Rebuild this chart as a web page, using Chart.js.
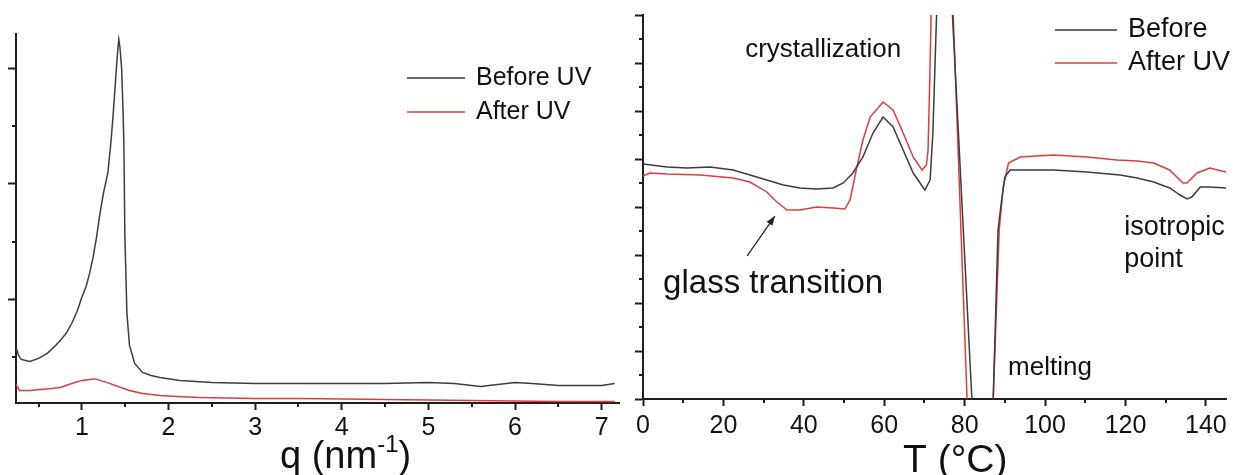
<!DOCTYPE html>
<html lang="en">
<head>
  <meta charset="UTF-8" />
  <title>SAXS and DSC before / after UV</title>
  <script src="https://cdn.jsdelivr.net/npm/chart.js"></script>
  <style>
    body { margin: 0; background: #fff; }
    canvas { position: absolute; top: 0; }
  </style>
</head>
<body>
  <canvas id="saxsChart" width="630" height="475" style="left:0"></canvas>
  <canvas id="dscChart" width="606" height="475" style="left:630px"></canvas>

  <script>
    // ---- left panel: scattering intensity vs q ----
    const qBefore = [0.24, 0.27, 0.30, 0.34, 0.40, 0.50, 0.60, 0.70, 0.75, 0.82, 0.89, 0.95, 1.00, 1.05, 1.09, 1.13, 1.17, 1.21, 1.25, 1.30,
                     1.335, 1.36, 1.38, 1.40, 1.415, 1.427, 1.44, 1.46, 1.475, 1.485, 1.496, 1.52, 1.55, 1.61, 1.70, 1.80, 1.90, 2.13, 2.50, 3.00,
                     3.50, 4.00, 4.50, 5.00, 5.30, 5.60, 5.80, 6.00, 6.20, 6.50, 6.80, 7.00, 7.15];
    const iBefore = [0.583, 0.513, 0.478, 0.470, 0.461, 0.487, 0.530, 0.600, 0.643, 0.704, 0.800, 0.904, 1.017, 1.113, 1.226, 1.365, 1.539, 1.748, 1.922, 2.096,
                     2.357, 2.583, 2.800, 3.017, 3.165, 3.252, 3.183, 2.991, 2.643, 2.357, 1.574, 0.878, 0.600, 0.443, 0.365, 0.339, 0.322, 0.296, 0.278, 0.270,
                     0.270, 0.270, 0.270, 0.278, 0.270, 0.243, 0.261, 0.278, 0.270, 0.252, 0.252, 0.252, 0.270];
    const qAfter = [0.24, 0.28, 0.40, 0.52, 0.65, 0.75, 0.85, 0.92, 1.00, 1.09, 1.15, 1.21, 1.32, 1.45, 1.55, 1.70, 1.90, 2.10, 2.36, 3.00,
                    3.50, 4.50, 5.50, 6.50, 7.15];
    const iAfter = [0.261, 0.209, 0.209, 0.217, 0.226, 0.235, 0.261, 0.278, 0.296, 0.304, 0.309, 0.296, 0.270, 0.235, 0.209, 0.183, 0.165, 0.157, 0.148, 0.139,
                    0.139, 0.130, 0.122, 0.113, 0.113];
    const qTicks = [1, 2, 3, 4, 5, 6, 7];
    const qMinor = [0.5, 1.5, 2.5, 3.5, 4.5, 5.5, 6.5];
    const saxsYMajor = [1, 2, 3];
    const saxsYMinor = [0.5, 1.5, 2.5];

    // ---- right panel: DSC heat flow vs T ----
    const tBefore = [0, 6, 11, 16.7, 22.4, 26.6, 30.8, 34.9, 39, 43.2, 47.3, 49.8, 52.2, 54.7, 57.2, 59.7, 62.2, 64.7, 67.2, 70.1,
                     71.4, 72.1, 73.2, 74.5, 76.6, 81.8, 84.5, 87.1, 88.3, 89.2, 90.0, 91.3, 98, 102, 110.4, 118.7, 122.9, 127, 131, 133.6,
                     135.3, 136.5, 138.6, 141, 145];
    const hfBefore = [4.896, 4.833, 4.813, 4.833, 4.771, 4.667, 4.563, 4.458, 4.396, 4.375, 4.396, 4.500, 4.708, 5.042, 5.542, 5.875, 5.667, 5.188, 4.708, 4.354,
                      4.563, 5.542, 8.5, 12, 8.6, 0, -4, 0, 3.521, 4.146, 4.625, 4.771, 4.771, 4.771, 4.729, 4.667, 4.604, 4.521, 4.396, 4.250,
                      4.167, 4.208, 4.417, 4.417, 4.396];
    const tAfter = [0, 1.7, 6, 14.2, 22.4, 26.6, 30.8, 33.3, 35.8, 39, 43.2, 47.3, 50.2, 51.5, 53.2, 54.7, 56.5, 59.7, 62.2, 64.7,
                    67.2, 69.4, 70.5, 70.9, 71.4, 71.8, 73.8, 76.9, 80.6, 84, 87.1, 88.6, 89.6, 90.9, 93.8, 102, 110.4, 117.9, 122.9, 127,
                    131, 134.3, 135.3, 137.8, 141, 145];
    const hfAfter = [4.646, 4.708, 4.688, 4.667, 4.604, 4.521, 4.313, 4.104, 3.938, 3.938, 4.000, 3.979, 3.958, 4.146, 4.833, 5.396, 5.875, 6.188, 6.021, 5.542,
                     5.042, 4.771, 4.875, 5.188, 6.917, 8.6, 12.5, 8.6, 0, -4, 0, 3.521, 4.417, 4.917, 5.042, 5.083, 5.042, 4.979, 4.958, 4.917,
                     4.771, 4.500, 4.500, 4.708, 4.813, 4.729];
    const tTicks = [0, 20, 40, 60, 80, 100, 120, 140];
    const tMinor = [10, 30, 50, 70, 90, 110, 130];
    const dscYMajor = [0, 1, 2, 3, 4, 5, 6, 7, 8];
    const dscYMinor = [0.5, 1.5, 2.5, 3.5, 4.5, 5.5, 6.5, 7.5];

    const FONT = "'Liberation Sans', Arial, sans-serif";
    const AXIS = '#1e1e1e';
    const TEXT = '#111';
    const BLACK_LINE = '#3d3d3d';
    const RED_LINE = '#e03c3c';

    Chart.defaults.font.family = FONT;

    const toPoints = (xs, ys) => xs.map((v, i) => ({ x: v, y: ys[i] }));

    // minor ticks, legend, text notes, arrow and axis title
    const decorPlugin = {
      id: 'decor',
      afterDraw(chart, args, opts) {
        const { ctx, chartArea: area } = chart;
        const xs = chart.scales.x, ys = chart.scales.y;
        ctx.save();

        ctx.strokeStyle = AXIS;
        ctx.lineWidth = 2;
        ctx.beginPath();
        opts.minorX.forEach(v => {
          const px = Math.round(xs.getPixelForValue(v));
          ctx.moveTo(px, area.bottom);
          ctx.lineTo(px, area.bottom + opts.minorLen);
        });
        opts.minorY.forEach(v => {
          const py = Math.round(ys.getPixelForValue(v));
          ctx.moveTo(area.left, py);
          ctx.lineTo(area.left - opts.minorLen, py);
        });
        ctx.stroke();

        const lg = opts.legend;
        ctx.font = lg.size + 'px ' + FONT;
        ctx.textBaseline = 'middle';
        chart.data.datasets.forEach((ds, i) => {
          const yy = lg.y + i * lg.gap;
          ctx.strokeStyle = ds.borderColor;
          ctx.lineWidth = 1.5;
          ctx.beginPath();
          ctx.moveTo(lg.x, yy);
          ctx.lineTo(lg.x + lg.len, yy);
          ctx.stroke();
          ctx.fillStyle = TEXT;
          ctx.fillText(ds.label, lg.x + lg.len + 11, yy);
        });

        ctx.textBaseline = 'alphabetic';
        ctx.fillStyle = TEXT;
        (opts.notes || []).forEach(n => {
          ctx.font = n.size + 'px ' + FONT;
          ctx.fillText(n.text, xs.getPixelForValue(n.x), ys.getPixelForValue(n.y));
        });

        if (opts.arrow) {
          const a = opts.arrow;
          const x0 = xs.getPixelForValue(a.from[0]), y0 = ys.getPixelForValue(a.from[1]);
          const x1 = xs.getPixelForValue(a.to[0]), y1 = ys.getPixelForValue(a.to[1]);
          const ang = Math.atan2(y1 - y0, x1 - x0);
          ctx.strokeStyle = AXIS;
          ctx.lineWidth = 1.2;
          ctx.beginPath();
          ctx.moveTo(x0, y0);
          ctx.lineTo(x1, y1);
          ctx.stroke();
          ctx.fillStyle = AXIS;
          ctx.beginPath();
          ctx.moveTo(x1, y1);
          ctx.lineTo(x1 - 10 * Math.cos(ang - 0.35), y1 - 10 * Math.sin(ang - 0.35));
          ctx.lineTo(x1 - 10 * Math.cos(ang + 0.35), y1 - 10 * Math.sin(ang + 0.35));
          ctx.closePath();
          ctx.fill();
        }

        ctx.fillStyle = TEXT;
        let cx = opts.title.x;
        opts.title.parts.forEach(p => {
          ctx.font = p.size + 'px ' + FONT;
          ctx.fillText(p.text, cx, opts.title.y - (p.rise || 0));
          cx += ctx.measureText(p.text).width;
        });

        ctx.restore();
      }
    };

    function axisX(min, max, tickValues, height, pad) {
      return {
        type: 'linear', min: min, max: max,
        afterBuildTicks: s => { s.ticks = tickValues.map(v => ({ value: v })); },
        afterFit: s => { s.height = height; },
        grid: { drawOnChartArea: false, tickLength: 7, tickWidth: 2, tickColor: AXIS },
        border: { color: AXIS, width: 2 },
        ticks: { font: { size: 25 }, color: TEXT, padding: pad, maxRotation: 0, autoSkip: false }
      };
    }

    function axisY(min, max, tickValues, width) {
      return {
        type: 'linear', min: min, max: max,
        afterBuildTicks: s => { s.ticks = tickValues.map(v => ({ value: v })); },
        afterFit: s => { s.width = width; },
        grid: { drawOnChartArea: false, tickLength: 8, tickWidth: 2, tickColor: AXIS },
        border: { color: AXIS, width: 2 },
        ticks: { display: false }
      };
    }

    const lineStyle = { borderWidth: 1.5, pointRadius: 0, tension: 0, fill: false };

    new Chart(document.getElementById('saxsChart'), {
      type: 'line',
      data: {
        datasets: [
          { label: 'Before UV', data: toPoints(qBefore, iBefore), borderColor: BLACK_LINE, ...lineStyle },
          { label: 'After UV', data: toPoints(qAfter, iAfter), borderColor: RED_LINE, ...lineStyle }
        ]
      },
      options: {
        responsive: false,
        animation: false,
        layout: { padding: { top: 34, right: 11, left: 0, bottom: 0 } },
        plugins: {
          legend: { display: false },
          tooltip: { enabled: false },
          decor: {
            minorX: qMinor, minorY: saxsYMinor, minorLen: 4,
            legend: { x: 407, y: 78, gap: 34, len: 58, size: 25 },
            title: { x: 280, y: 468, parts: [
              { text: 'q (nm', size: 38 }, { text: '-1', size: 24, rise: 16 }, { text: ')', size: 38 }
            ] }
          }
        },
        scales: {
          x: axisX(0.24, 7.2, qTicks, 72, 3),
          y: axisY(0.1, 3.3, saxsYMajor, 16)
        }
      },
      plugins: [decorPlugin]
    });

    new Chart(document.getElementById('dscChart'), {
      type: 'line',
      data: {
        datasets: [
          { label: 'Before', data: toPoints(tBefore, hfBefore), borderColor: BLACK_LINE, ...lineStyle },
          { label: 'After UV', data: toPoints(tAfter, hfAfter), borderColor: RED_LINE, ...lineStyle }
        ]
      },
      options: {
        responsive: false,
        animation: false,
        layout: { padding: { top: 15, right: 10, left: 0, bottom: 0 } },
        plugins: {
          legend: { display: false },
          tooltip: { enabled: false },
          decor: {
            minorX: tMinor, minorY: dscYMinor, minorLen: 4,
            legend: { x: 425, y: 30, gap: 33, len: 62, size: 27 },
            notes: [
              { text: 'crystallization', x: 25.4, y: 7.125, size: 26 },
              { text: 'glass transition', x: 5.0, y: 2.21, size: 33 },
              { text: 'isotropic', x: 119.7, y: 3.42, size: 27 },
              { text: 'point', x: 119.7, y: 2.75, size: 27 },
              { text: 'melting', x: 90.8, y: 0.5, size: 26 }
            ],
            arrow: { from: [25.9, 2.98], to: [32.8, 3.81] },
            title: { x: 273, y: 472, parts: [{ text: 'T (°C)', size: 39 }] }
          }
        },
        scales: {
          x: axisX(0, 145, tTicks, 76, 5),
          y: axisY(0, 8, dscYMajor, 13)
        }
      },
      plugins: [decorPlugin]
    });
  </script>
</body>
</html>
